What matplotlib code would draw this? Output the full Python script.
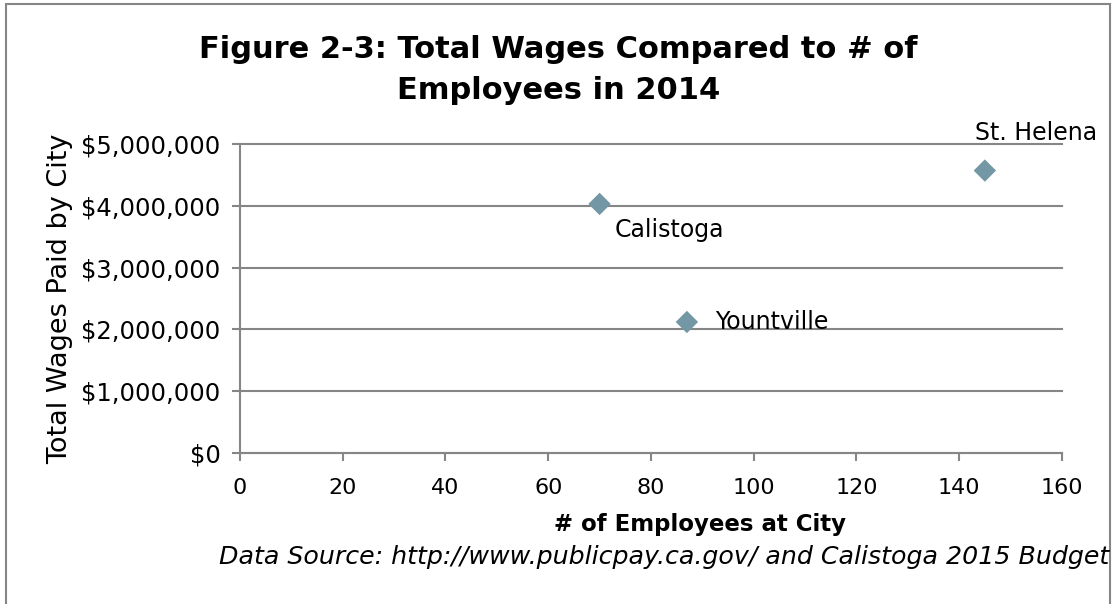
import matplotlib.pyplot as plt
from matplotlib.patches import Rectangle
from matplotlib.ticker import FuncFormatter

# Employees vs. total wages, 2014
cities = ["Calistoga", "Yountville", "St. Helena"]
employees = [70, 87, 145]
wages = [4030000, 2120000, 4570000]

x_ticks = [0, 20, 40, 60, 80, 100, 120, 140, 160]
y_ticks = [0, 1000000, 2000000, 3000000, 4000000, 5000000]

grid_col = '#868686'
marker_col = '#7397A4'

plt.rcParams['font.family'] = ['DejaVu Sans']

fig = plt.figure(figsize=(11.13, 6.04), dpi=100)
ax = fig.add_axes([0.2156, 0.25, 0.7385, 0.5116])

ax.scatter(employees, wages, marker='D', s=130, color=marker_col,
           edgecolors='none', zorder=3, clip_on=False)

# point labels, offset like Excel's data labels
offsets = {"Calistoga": (11, -19),
           "Yountville": (20, 0),
           "St. Helena": (-7, 27)}
for name, xv, yv in zip(cities, employees, wages):
    dx, dy = offsets[name]
    ax.annotate(name, (xv, yv), xytext=(dx, dy), textcoords='offset points',
                ha='left', va='center', fontsize=17, color='black',
                annotation_clip=False)

ax.set_xlim(0, 160)
ax.set_ylim(0, 5000000)
ax.set_xticks(x_ticks)
ax.set_yticks(y_ticks)
ax.yaxis.set_major_formatter(FuncFormatter(lambda v, p: f"${v:,.0f}"))

ax.grid(axis='y', color=grid_col, linewidth=1.5)
ax.set_axisbelow(True)
for gl in ax.get_ygridlines():
    gl.set_clip_on(False)
for side in ['top', 'right']:
    ax.spines[side].set_visible(False)
for side in ['left', 'bottom']:
    ax.spines[side].set_color(grid_col)
    ax.spines[side].set_linewidth(1.5)
ax.tick_params(axis='both', direction='out', length=6, width=1.5,
               color=grid_col, labelcolor='black')
ax.tick_params(axis='y', pad=8, labelsize=17.5)
ax.tick_params(axis='x', pad=12, labelsize=16)

ax.set_ylabel("Total Wages Paid by City", fontsize=19.5, labelpad=6)
ax.set_xlabel("# of Employees at City", fontsize=16.5, fontweight='bold',
              labelpad=11, x=0.56)

fig.text(0.502, 0.884, "Figure 2-3: Total Wages Compared to # of\nEmployees in 2014",
         ha='center', va='center', fontsize=22, fontweight='bold',
         linespacing=1.5)

fig.text(0.997, 0.078, "Data Source: http://www.publicpay.ca.gov/ and Calistoga 2015 Budget",
         ha='right', va='center', fontsize=18.2, style='italic')

# outer chart frame (bottom edge runs past the image)
fig.patches.append(Rectangle((6 / 1113, -0.05), 1104 / 1113, 1.05 - 4 / 604,
                             transform=fig.transFigure, fill=False,
                             edgecolor=grid_col, linewidth=1.5))

fig.savefig("out.png", dpi=100)
